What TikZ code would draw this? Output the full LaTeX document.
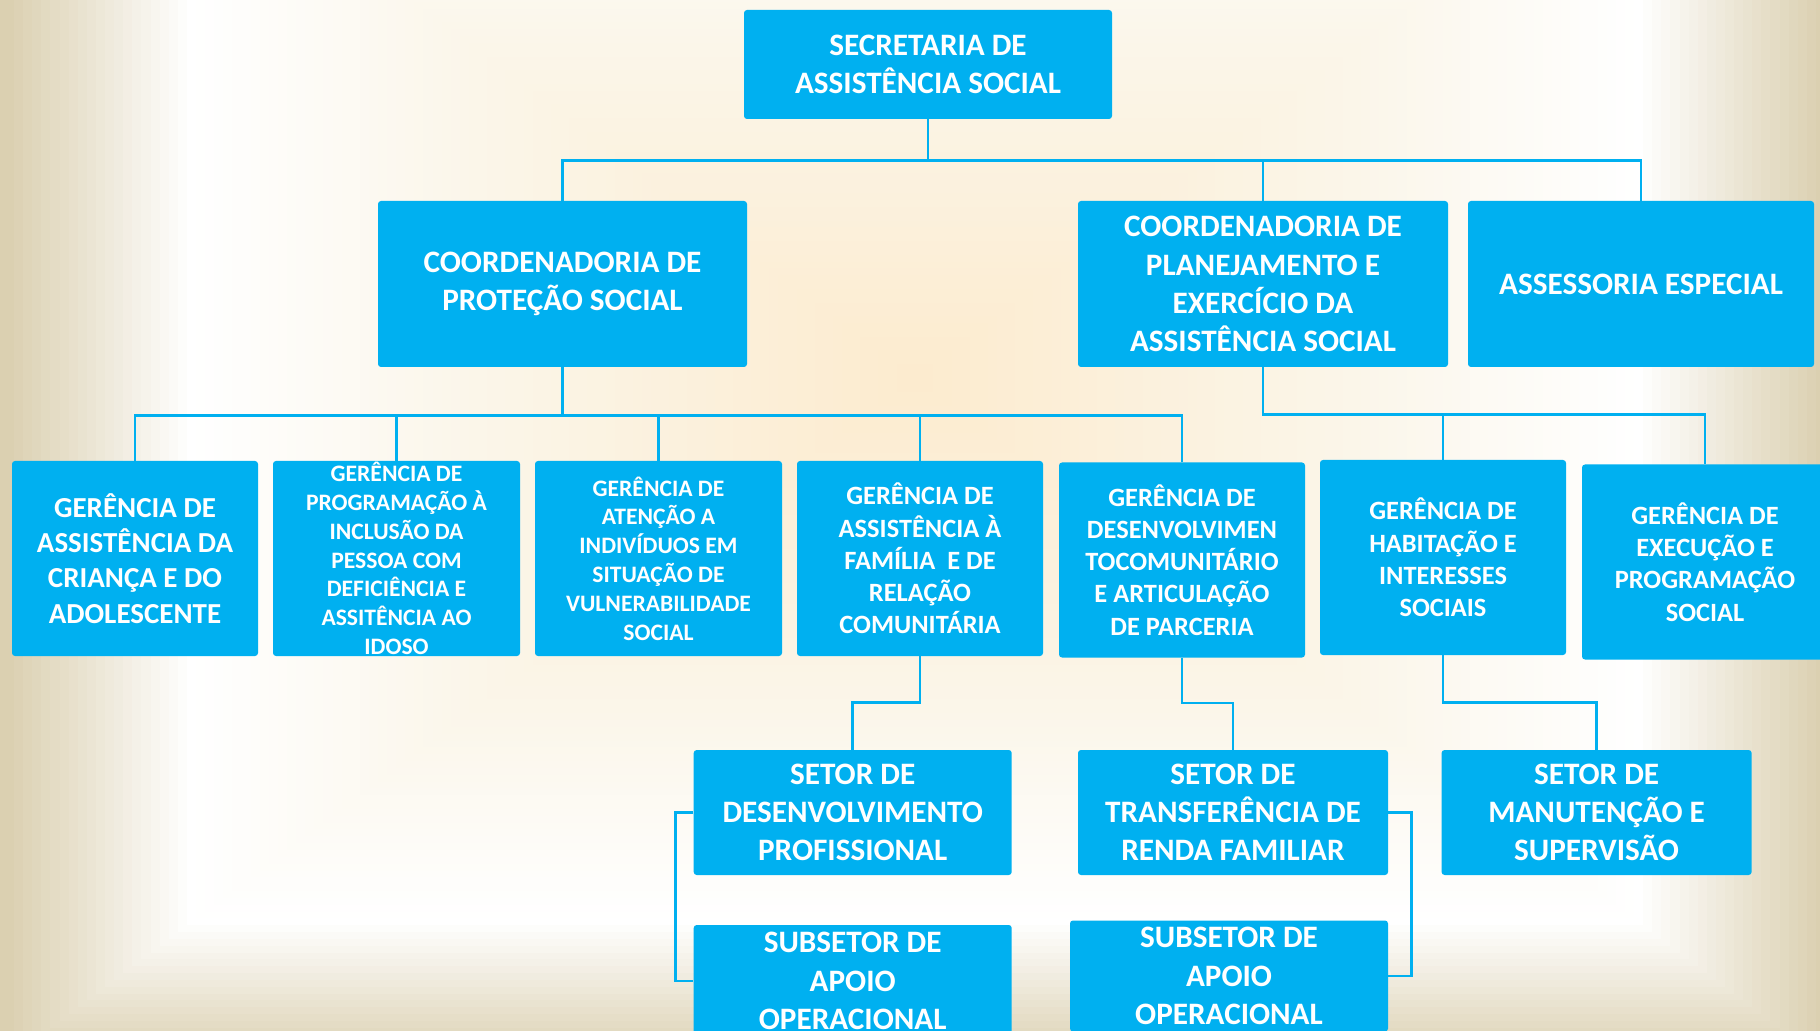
\documentclass[tikz,border=0pt]{standalone}
\usepackage{fontspec}
\setmainfont{Carlito}
\definecolor{boxblue}{RGB}{0,176,240}
\definecolor{sand}{RGB}{219,208,177}
\definecolor{cream}{RGB}{251,246,234}
\definecolor{glow}{RGB}{252,235,206}
\begin{document}
\begin{tikzpicture}[x=0.5pt, y=-0.5pt,
    box/.style 2 args={rectangle, rounded corners=1.5pt, fill=boxblue, text=white,
      align=center, inner sep=0pt, minimum width=#1*0.5pt, minimum height=#2*0.5pt},
    big/.style={font=\bfseries\fontsize{15.6}{19.1}\selectfont},
    mid/.style={font=\bfseries\fontsize{13.2}{16.1}\selectfont},
    small/.style={font=\bfseries\fontsize{11.8}{14.4}\selectfont},
    link/.style={draw=boxblue, line width=1.25pt}]
  % background: rectangular gradient from the centre
  \path[use as bounding box, clip] (0,0) rectangle (1820,1031);
  \def\cx{915}
  \def\cy{378}
  \foreach \i in {0,...,22} {
    \pgfmathsetmacro\t{1.02-\i*0.01}
    \pgfmathsetmacro\p{max(0,min(100,(\t-0.8)*500))}
    \fill[sand!\p!white] (\cx-910*\t,\cy-684*\t) rectangle (\cx+910*\t,\cy+684*\t);
  }
  \foreach \i in {1,...,30} {
    \pgfmathsetmacro\t{0.8-\i*0.01}
    \pgfmathsetmacro\p{min(100,(0.8-\t)*333.3)}
    \fill[cream!\p!white] (\cx-910*\t,\cy-684*\t) rectangle (\cx+910*\t,\cy+684*\t);
  }
  \foreach \i in {1,...,49} {
    \pgfmathsetmacro\t{0.5-\i*0.01}
    \pgfmathsetmacro\p{min(100,(0.5-\t)*200)}
    \fill[glow!\p!cream] (\cx-910*\t,\cy-684*\t) rectangle (\cx+910*\t,\cy+684*\t);
  }

  % top and coordinations
  \node[box={368}{109}, big] (sec) at (928,64.5) {SECRETARIA DE\\ASSISTÊNCIA SOCIAL};
  \node[box={369}{166}, big] (cprot) at (562.5,284) {COORDENADORIA DE\\PROTEÇÃO SOCIAL};
  \node[box={370}{166}, big] (cplan) at (1263,284)
    {COORDENADORIA DE\\PLANEJAMENTO E\\EXERCÍCIO DA\\ASSISTÊNCIA SOCIAL};
  \node[box={346}{166}, big] (assess) at (1641,284) {ASSESSORIA ESPECIAL};

  % gerencias
  \node[box={246}{195}, font=\bfseries\fontsize{14.5}{17.6}\selectfont] (g1) at (135,558.5)
    {GERÊNCIA DE\\ASSISTÊNCIA DA\\CRIANÇA E DO\\ADOLESCENTE};
  \node[box={247}{195}, small] (g2) at (396.5,558.5)
    {GERÊNCIA DE\\PROGRAMAÇÃO À\\INCLUSÃO DA\\PESSOA COM\\DEFICIÊNCIA E\\ASSITÊNCIA AO\\IDOSO};
  \node[box={247}{195}, small] (g3) at (658.5,558.5)
    {GERÊNCIA DE\\ATENÇÃO A\\INDIVÍDUOS EM\\SITUAÇÃO DE\\VULNERABILIDADE\\SOCIAL};
  \node[box={246}{195}, mid] (g4) at (920,558.5)
    {GERÊNCIA DE\\ASSISTÊNCIA À\\FAMÍLIA~ E DE\\RELAÇÃO\\COMUNITÁRIA};
  \node[box={246}{195}, mid] (g5) at (1182,560)
    {GERÊNCIA DE\\DESENVOLVIMEN\\TOCOMUNITÁRIO\\E ARTICULAÇÃO\\DE PARCERIA};
  \node[box={246}{195}, mid] (g6) at (1443,557.5)
    {GERÊNCIA DE\\HABITAÇÃO E\\INTERESSES\\SOCIAIS};
  \node[box={246}{195}, mid] (g7) at (1705,562)
    {GERÊNCIA DE\\EXECUÇÃO E\\PROGRAMAÇÃO\\SOCIAL};

  % setores
  \node[box={318}{125}, big] (s1) at (852.7,812.5) {SETOR DE\\DESENVOLVIMENTO\\PROFISSIONAL};
  \node[box={310}{125}, big] (s2) at (1233,812.5) {SETOR DE\\TRANSFERÊNCIA DE\\RENDA FAMILIAR};
  \node[box={310}{125}, big] (s3) at (1596.6,812.5) {SETOR DE\\MANUTENÇÃO E\\SUPERVISÃO};
  \node[box={318}{112}, big] (sub1) at (852.7,981) {SUBSETOR DE\\APOIO\\OPERACIONAL};
  \node[box={318}{111}, big] (sub2) at (1229,976) {SUBSETOR DE\\APOIO\\OPERACIONAL};

  % links
  \foreach \n in {cprot, cplan, assess} {
    \draw[link] (sec.south) -- ++(0,41) -| (\n.north);
  }
  \foreach \n in {g1, g2, g3, g4, g5} {
    \draw[link] (cprot.south) -- ++(0,48) -| (\n.north);
  }
  \foreach \n in {g6, g7} {
    \draw[link] (cplan.south) -- ++(0,47) -| (\n.north);
  }
  \draw[link] (g4.south) -- ++(0,46) -| (s1.north);
  \draw[link] (g5.south) -- ++(0,45) -| (s2.north);
  \draw[link] (g6.south) -- ++(0,47) -| (s3.north);
  \draw[link] (s1.west) -- ++(-18,0) |- (sub1.west);
  \draw[link] (s2.east) -- ++(23,0) |- (sub2.east);
\end{tikzpicture}
\end{document}
